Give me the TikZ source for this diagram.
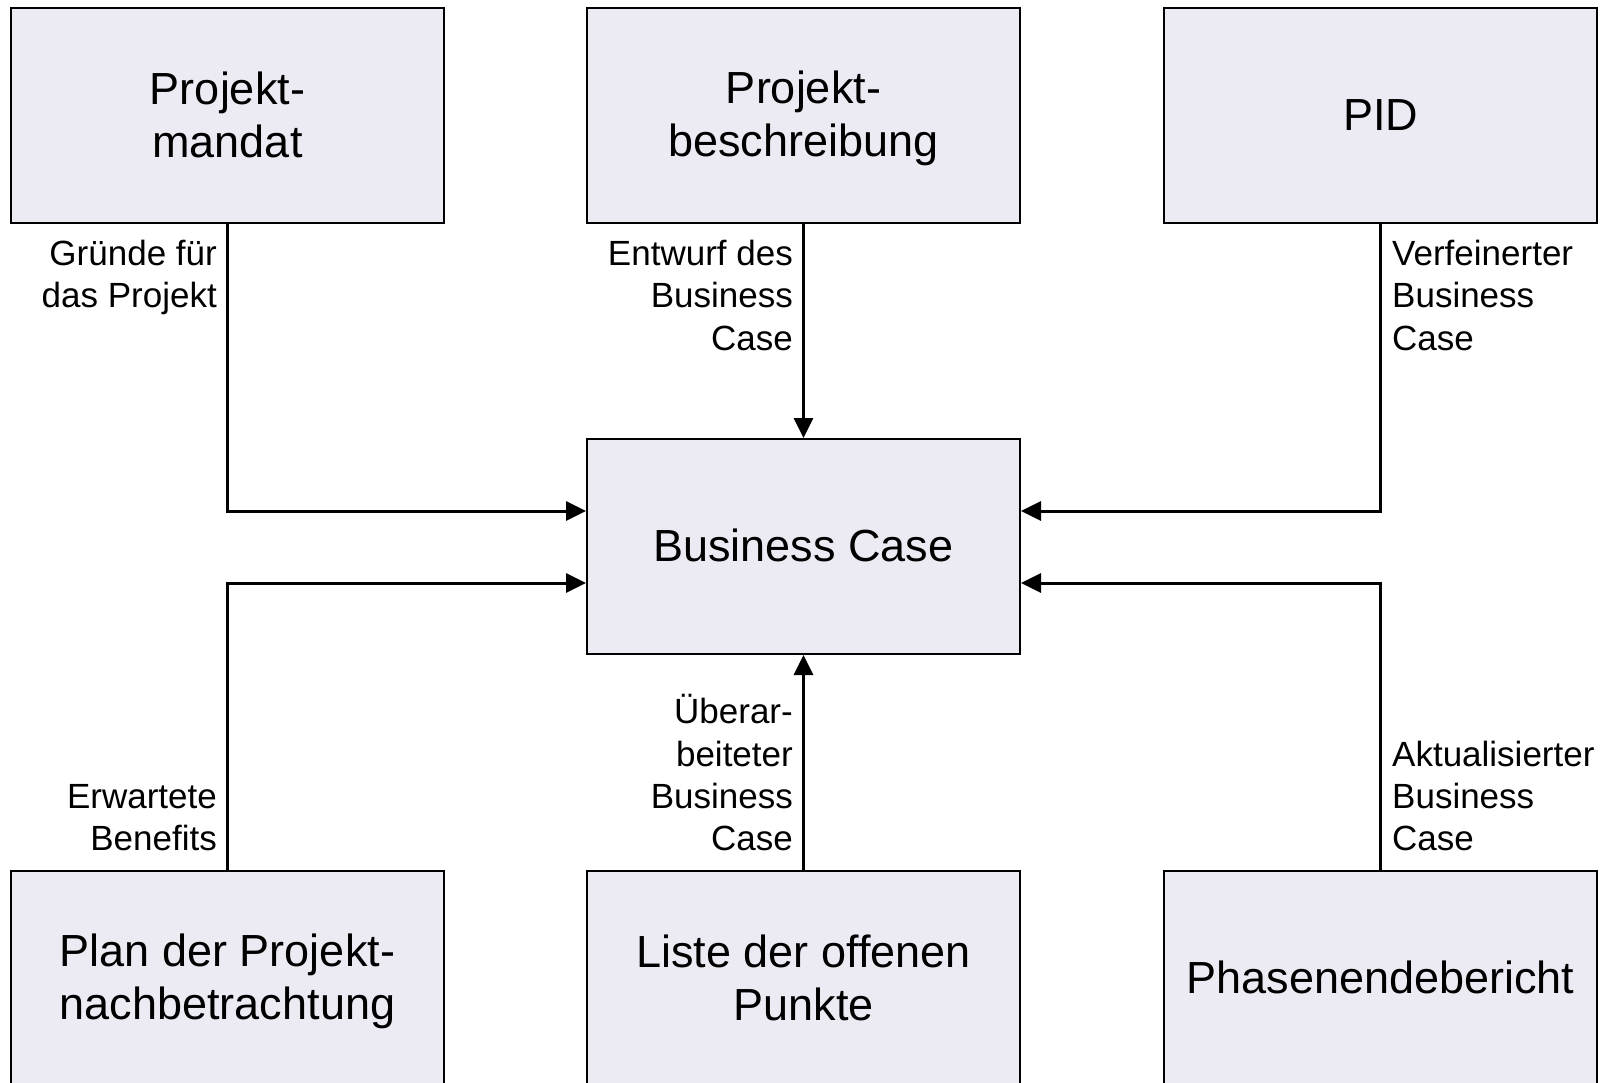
\documentclass[tikz,border=0pt]{standalone}
\usepackage{fontspec}
\setmainfont{Liberation Sans}
\usetikzlibrary{arrows.meta}
\definecolor{boxfill}{RGB}{236,234,242}
\newcommand{\bst}{\rule[-0.16em]{0pt}{1.0em}}
\begin{document}
\begin{tikzpicture}[x=1pt,y=-1pt,
  box/.style={draw=black, line width=2pt, fill=boxfill, minimum width=433pt, minimum height=215pt,
    inner sep=0pt, align=center, font=\fontsize{45}{53}\selectfont},
  lab/.style={inner sep=0pt, font=\fontsize{35}{42.2}\selectfont},
  labr/.style={lab, align=right, anchor=base east},
  labl/.style={lab, align=left, anchor=base west},
  arr/.style={line width=3pt, -{Triangle[length=20pt,width=19pt]}}]
\path[use as bounding box, clip] (0,0) rectangle (1607,1083);
\node[box] (pm) at (227.5,115.5) {\bst Projekt-\\\bst mandat};
\node[box] (pb) at (803.5,115.5) {\bst Projekt-\\\bst beschreibung};
\node[box] (pid) at (1380.5,115.5) {\bst PID};
\node[box] (bc) at (803.5,546.5) {\bst Business Case};
\node[box] (pn) at (227.5,978.5) {\bst Plan der Projekt-\\\bst nachbetrachtung};
\node[box] (lp) at (803.5,978.5) {\bst Liste der offenen\\\bst Punkte};
\node[box] (pe) at (1380.5,978.5) {\bst Phasenendebericht};
\draw[arr] (pm.south) |- ([yshift=35.5pt]bc.west);
\draw[arr] (pn.north) |- ([yshift=-36.5pt]bc.west);
\draw[arr] (pid.south) |- ([yshift=35.5pt]bc.east);
\draw[arr] (pe.north) |- ([yshift=-36.5pt]bc.east);
\draw[arr] (pb.south) -- (bc.north);
\draw[arr] (lp.north) -- (bc.south);
\node[labr] (l1) at (217,307.9) {Gründe für\\das Projekt};
\node[labr] (l2) at (793,350.1) {Entwurf des\\Business\\Case};
\node[labl] (l3) at (1392,350.1) {Verfeinerter\\Business\\Case};
\node[labr] (l4) at (793,850.5) {Überar-\\beiteter\\Business\\Case};
\node[labr] (l5) at (217,850.5) {Erwartete\\Benefits};
\node[labl] (l6) at (1392,850.5) {Aktualisierter\\Business\\Case};
\end{tikzpicture}
\end{document}
